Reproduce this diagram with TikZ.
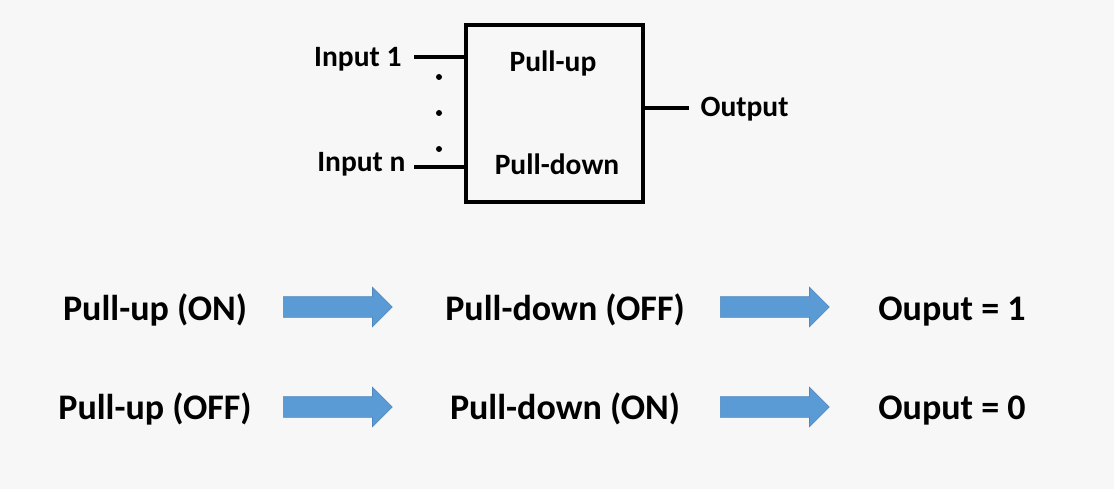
\documentclass[tikz,border=0pt]{standalone}
\usepackage{fontspec}
\setmainfont{Carlito}
\usepackage{xcolor}
\usetikzlibrary{shapes.arrows}
\definecolor{bg}{RGB}{247,247,247}
\definecolor{arrowblue}{RGB}{91,155,213}
\definecolor{arrowedge}{RGB}{78,136,190}

\begin{document}
\begin{tikzpicture}[x=1pt, y=-1pt, line width=3.2pt,
  small/.style={font=\fontsize{29.5}{34}\selectfont\bfseries, inner sep=0pt},
  big/.style={font=\fontsize{36}{42}\selectfont\bfseries, inner sep=0pt, anchor=base},
  fatarrow/.style={single arrow, fill=arrowblue, draw=arrowedge, line width=0.6pt,
    minimum height=109pt, inner xsep=0pt, inner ysep=10pt, anchor=west,
    single arrow head extend=9.5pt, single arrow tip angle=90}]
\fill[bg] (0,0) rectangle (1114,489);
\useasboundingbox (0,0) rectangle (1114,489);

% the gate
\node[draw, minimum width=177pt, minimum height=177pt] (box) at (554.5,113.5) {};
\node[small, anchor=base] (pu) at (553,72) {Pull-up};
\node[small, anchor=base] (pd) at (557,175) {Pull-down};

\coordinate (I1) at (414,57);
\coordinate (IN) at (414,167);
\coordinate (O) at (689,108);

\node[small, anchor=base east] (in1) at (403,67) {Input 1};
\node[small, anchor=base east] (inn) at (407,172) {Input n};
\node[small, anchor=base west] (out) at (699,117) {Output};

\draw (I1) to (I1 -| box.west);
\draw (IN) to (IN -| box.west);
\draw (O -| box.east) to (O);

\fill (439,77) circle (3pt);
\fill (439,113) circle (3pt);
\fill (439,149) circle (3pt);

% the two cases
\node[big] (up1) at (155,320) {Pull-up (ON)};
\node[big] (dn1) at (565,320) {Pull-down (OFF)};
\node[big] (o1) at (952,320) {Ouput = 1};
\node[big] (up2) at (155,419) {Pull-up (OFF)};
\node[big] (dn2) at (565,419) {Pull-down (ON)};
\node[big] (o2) at (952,419) {Ouput = 0};

\node[fatarrow] (a11) at (283,307) {};
\node[fatarrow] (a12) at (720,307) {};
\node[fatarrow] (a21) at (283,407) {};
\node[fatarrow] (a22) at (720,407) {};
\end{tikzpicture}
\end{document}
